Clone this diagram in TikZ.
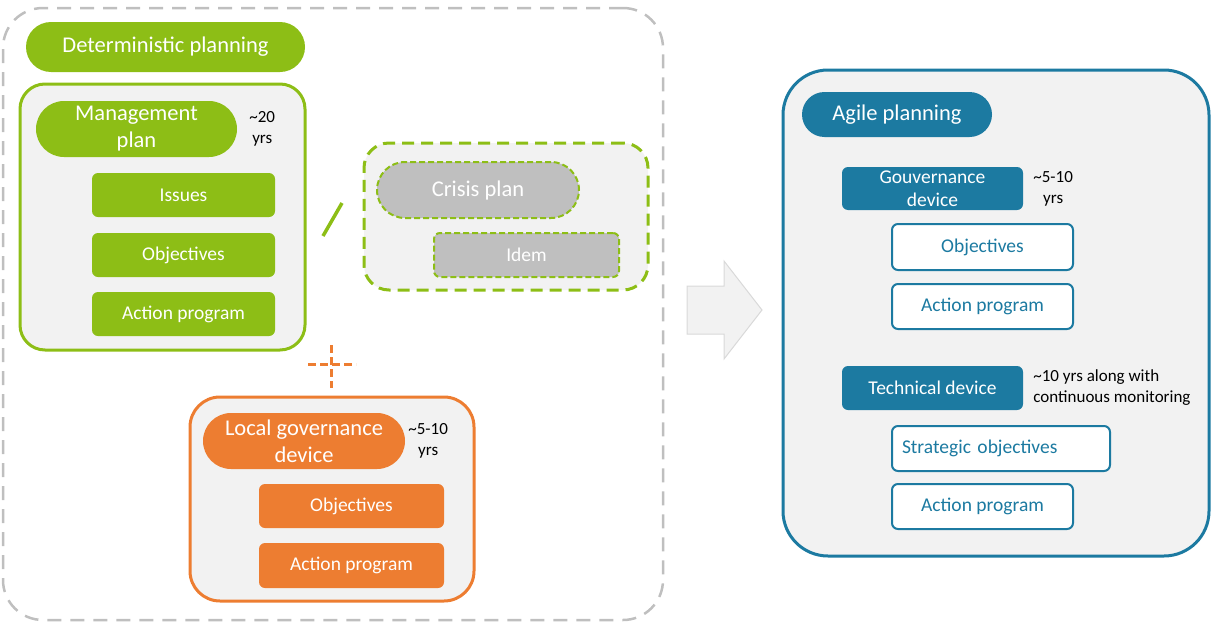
\documentclass[tikz,border=0pt]{standalone}
\usepackage{fontspec}
\setmainfont{Carlito}
\usetikzlibrary{positioning}
\definecolor{leafgreen}{RGB}{141,190,22}
\definecolor{rustorange}{RGB}{237,125,49}
\definecolor{seablue}{RGB}{28,122,161}
\definecolor{paper}{RGB}{242,242,242}
\definecolor{ash}{RGB}{191,191,191}
\definecolor{mist}{RGB}{217,217,217}

\begin{document}
\begin{tikzpicture}[
		x=1pt, y=-1pt,
		every node/.style={
				inner sep=0pt,
				align=center,
				font=\fontsize{19.5}{23}\selectfont
			},
		frame/.style={draw=#1, line width=3pt, fill=paper},
		pill/.style={fill=#1, text=white, font=\fontsize{22.5}{27}\selectfont},
		item/.style={fill=#1, text=white, rounded corners=6pt},
		hollow/.style={draw=seablue, line width=2pt, fill=white, text=seablue, rounded corners=6pt},
		note/.style={font=\fontsize{17}{21}\selectfont}
	]
	\useasboundingbox (0,0) rectangle (1212,624);

	% deterministic side
	\node[draw=ash, line width=2.5pt, dash pattern=on 14pt off 9pt, rounded corners=40pt,
		minimum width=660pt, minimum height=612pt] (detframe) at (333,314) {};
	\node[pill=leafgreen, rounded corners=25pt, minimum width=279pt, minimum height=50pt]
		(detpill) at (165.5,47) {Deterministic planning};

	\node[frame=leafgreen, rounded corners=25pt, minimum width=285pt, minimum height=266pt]
		(mgmtframe) at (162.5,217) {};
	\node[pill=leafgreen, rounded corners=28pt, minimum width=201pt, minimum height=56pt]
		(mgmtpill) at (136.5,129) {Management\\plan};
	\node[note, right=12pt of mgmtpill] (mgmtyrs) {\textasciitilde20\\yrs};
	\node[item=leafgreen, minimum width=183pt, minimum height=44pt] (issues) at (183.5,195) {Issues};
	\node[item=leafgreen, minimum width=183pt, minimum height=44pt] (mgmtobj) at (183.5,255) {Objectives};
	\node[item=leafgreen, minimum width=183pt, minimum height=44pt] (mgmtact) at (183.5,314) {Action program};

	% crisis plan, "/" sign
	\draw[leafgreen, line width=3.5pt] (323,236) -- (342,203);
	\node[frame=leafgreen, dash pattern=on 12pt off 7pt, rounded corners=25pt,
		minimum width=284pt, minimum height=147pt] (crisisframe) at (506,216.5) {};
	\node[pill=ash, draw=leafgreen, line width=2pt, dash pattern=on 6pt off 3pt, rounded corners=28pt,
		minimum width=202pt, minimum height=56pt] (crisispill) at (478,190) {Crisis plan};
	\node[item=ash, draw=leafgreen, line width=2pt, dash pattern=on 6pt off 3pt,
		minimum width=185pt, minimum height=44pt] (idem) at (526.5,255) {Idem};

	% "+" sign, local governance
	\draw[rustorange, line width=3pt, dash pattern=on 8pt off 4pt] (331,345) -- (331,388);
	\draw[rustorange, line width=3pt, dash pattern=on 8pt off 4pt] (308,364) -- (356,364);
	\node[frame=rustorange, rounded corners=30pt, minimum width=284pt, minimum height=204pt]
		(localframe) at (332,499) {};
	\node[pill=rustorange, rounded corners=28pt, minimum width=202pt, minimum height=56pt]
		(localpill) at (304,441) {Local governance\\device};
	\node[note, right=3pt of localpill] (localyrs) {\textasciitilde5-10\\yrs};
	\node[item=rustorange, minimum width=185pt, minimum height=44pt] (localobj) at (351.5,506) {Objectives};
	\node[item=rustorange, minimum width=185pt, minimum height=45pt] (localact) at (351.5,565.5) {Action program};

	% block arrow
	\draw[mist, fill=paper, line width=1pt]
		(687,286) -- (724,286) -- (724,261) -- (762,310) -- (724,359) -- (724,334) -- (687,334) -- cycle;

	% agile side
	\node[frame=seablue, rounded corners=45pt, minimum width=426pt, minimum height=486pt]
		(agileframe) at (996,313) {};
	\node[pill=seablue, rounded corners=22.5pt, minimum width=190pt, minimum height=45pt]
		(agilepill) at (897,114.5) {Agile planning};

	\node[item=seablue, minimum width=181pt, minimum height=43pt] (gouv) at (932.5,188.5) {Gouvernance\\device};
	\node[note, right=10pt of gouv] (gouvyrs) {\textasciitilde5-10\\yrs};
	\node[hollow, minimum width=181pt, minimum height=46pt] (gouvobj) at (982.5,247) {Objectives};
	\node[hollow, minimum width=181pt, minimum height=45pt] (gouvact) at (982.5,306.5) {Action program};

	\node[item=seablue, minimum width=181pt, minimum height=44pt] (tech) at (932.5,388) {Technical device};
	\node[note, align=left, right=10pt of tech] (techyrs) {\textasciitilde10 yrs along with\\continuous monitoring};
	\node[hollow, minimum width=218pt, minimum height=45pt, text width=198pt, align=left]
		(techobj) at (1001,448.5) {Strategic objectives};
	\node[hollow, minimum width=181pt, minimum height=45pt] (techact) at (982.5,506.5) {Action program};
\end{tikzpicture}
\end{document}
